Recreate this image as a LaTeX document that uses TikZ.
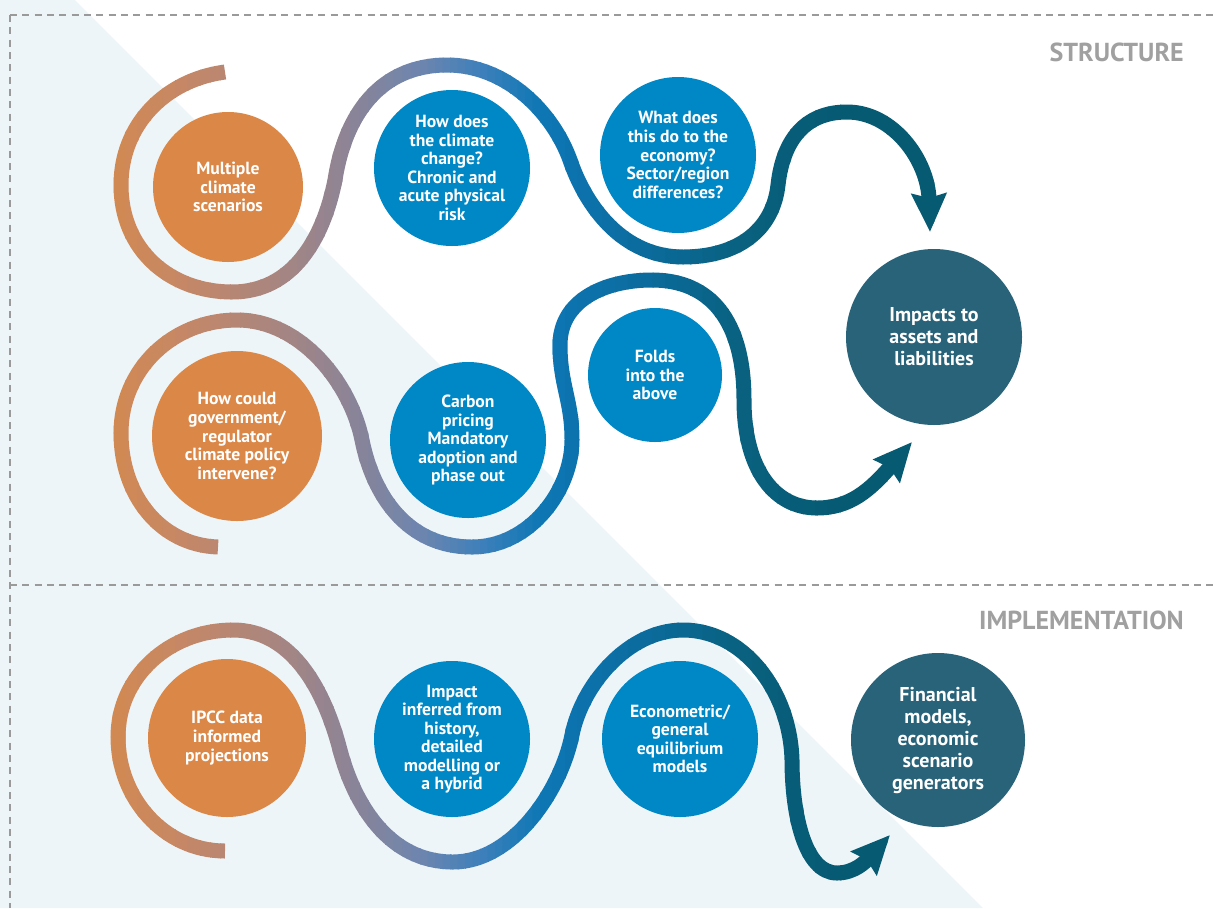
\documentclass[tikz,border=0pt]{standalone}
\usepackage{fontspec}
\setmainfont{PT Sans}
\usetikzlibrary{arrows.meta}
\definecolor{corange}{HTML}{DA8747}
\definecolor{cblue}{HTML}{0088C6}
\definecolor{cteal}{HTML}{28637A}
\definecolor{cbg}{HTML}{EEF5F8}
\definecolor{cgray}{HTML}{9A9A9A}
\definecolor{clabel}{HTML}{A0A0A0}
\definecolor{g0}{HTML}{D5894F}
\definecolor{g1}{HTML}{C1876A}
\definecolor{g2}{HTML}{A78581}
\definecolor{g3}{HTML}{8C8497}
\definecolor{g4}{HTML}{6E85AE}
\definecolor{g5}{HTML}{3F80BB}
\definecolor{g6}{HTML}{0E77B5}
\definecolor{g7}{HTML}{0B6C9E}
\definecolor{g8}{HTML}{096180}
\definecolor{g9}{HTML}{065A72}
\tikzset{
  bub/.style={circle, inner sep=0pt, align=center, text=white,
    font=\fontsize{13.2}{13.9}\selectfont\bfseries},
  orangeb/.style={bub, fill=corange},
  blueb/.style={bub, fill=cblue},
  tealb/.style={bub, fill=cteal, font=\fontsize{15}{16.5}\selectfont\bfseries},
  snk/.style={line width=11.25pt, -{Stealth[length=28.5pt,width=25.5pt,inset=3pt]}},
  dashline/.style={draw=cgray, line width=1.1pt, dash pattern=on 5.25pt off 4pt},
  sect/.style={anchor=east, inner sep=0pt, text=clabel, font=\fontsize{19.5}{19.5}\selectfont\bfseries}
}
\newcommand{\drawsnakes}[1]{%
  \draw[snk, draw=#1] (s1) .. controls (165,80) and (121,125) .. (121,185)
    .. controls (121,250) and (170,292) .. (232,292)
    .. controls (292,292) and (323,240) .. (335,180)
    .. controls (345,115) and (380,65) .. (447,65)
    .. controls (507,65) and (553,113) .. (570,160)
    .. controls (586,207) and (623,257) .. (683,257)
    .. controls (738,257) and (773,230) .. (778,185)
    .. controls (783,140) and (805,112) .. (847,112)
    .. controls (893,112) and (928,160) .. (t1);
  \draw[snk, draw=#1] (s2) .. controls (160,545) and (121,495) .. (121,433)
    .. controls (121,370) and (172,320) .. (237,320)
    .. controls (302,320) and (351,385) .. (362,440)
    .. controls (373,495) and (407,547) .. (472,547)
    .. controls (530,547) and (572,490) .. (572,440)
    .. controls (572,400) and (560,385) .. (560,345)
    .. controls (560,300) and (605,280) .. (652,280)
    .. controls (710,280) and (744,320) .. (744,400)
    .. controls (744,470) and (775,508) .. (817,508)
    .. controls (850,508) and (870,490) .. (t2);
  \draw[snk, draw=#1] (s3) .. controls (164,851) and (118,798) .. (118,737)
    .. controls (118,676) and (170,630) .. (233,630)
    .. controls (293,630) and (325,692) .. (340,750)
    .. controls (354,803) and (388,862) .. (453,862)
    .. controls (513,862) and (561,790) .. (572,735)
    .. controls (582,685) and (628,630) .. (683,630)
    .. controls (743,630) and (790,690) .. (792,760)
    .. controls (792,815) and (805,873) .. (837,873)
    .. controls (855,873) and (866,861) .. (t3);
}
\begin{document}
\begin{tikzpicture}[x=0.75pt,y=-0.75pt]
\useasboundingbox (0,0) rectangle (1213,908);
\fill[white] (0,0) rectangle (1213,908);
\fill[cbg] (0,0) -- (75,0) -- (983,908) -- (0,908) -- cycle;
% dashed frame
\draw[dashline] (10,15) -- (1213,15);
\draw[dashline] (10,15) -- (10,908);
\draw[dashline] (10,585) -- (1213,585);
\node[sect] (lstruct) at (1184,52) {STRUCTURE};
\node[sect] (limpl) at (1184,620) {IMPLEMENTATION};
% snake coordinates
\coordinate (s1) at (225,72);
\coordinate (t1) at (930,232);
\coordinate (s2) at (218,547);
\coordinate (t2) at (912,442);
\coordinate (s3) at (225,851);
\coordinate (t3) at (890,835);
% gradient snakes via strips
\foreach \xa/\xb/\ca/\cb in {0/100/g0/g0, 100/200/g0/g1, 200/280/g1/g2, 280/350/g2/g3,
  350/420/g3/g4, 420/480/g4/g5, 480/540/g5/g6, 540/640/g6/g7, 640/740/g7/g8,
  740/840/g8/g9, 840/1213/g9/g9}{
  \foreach \i in {0,...,7}{
    \pgfmathsetmacro\xl{\xa+(\xb-\xa)*\i/8}
    \pgfmathsetmacro\xr{\xa+(\xb-\xa)*(\i+1)/8+1}
    \pgfmathtruncatemacro\pc{100-(\i+0.5)*100/8}
    \colorlet{stripc}{\ca!\pc!\cb}
    \begin{scope}
      \clip (\xl,0) rectangle (\xr,908);
      \drawsnakes{stripc}
    \end{scope}
  }
}
% circles
\node[orangeb, minimum size=112.5pt] (c1) at (228,187) {Multiple\\climate\\scenarios};
\node[blueb, minimum size=117pt] (c2) at (452,168) {How does\\the climate\\change?\\Chronic and\\acute physical\\risk};
\node[blueb, minimum size=117pt] (c3) at (678,155) {What does\\this do to the\\economy?\\Sector/region\\differences?};
\node[tealb, minimum size=132pt] (c4) at (934,337) {Impacts to\\assets and\\liabilities};
\node[orangeb, minimum size=127.5pt] (c5) at (237,436) {How could\\government/\\regulator\\climate policy\\intervene?};
\node[blueb, minimum size=117pt] (c6) at (468,440) {Carbon\\pricing\\Mandatory\\adoption and\\phase out};
\node[blueb, minimum size=100.5pt] (c7) at (655,375) {Folds\\into the\\above};
\node[orangeb, minimum size=118.5pt] (c8) at (227,738) {IPCC data\\informed\\projections};
\node[blueb, minimum size=117pt] (c9) at (452,739) {Impact\\inferred from\\history,\\detailed\\modelling or\\a hybrid};
\node[blueb, minimum size=117pt] (c10) at (680,739) {Econometric/\\general\\equilibrium\\models};
\node[tealb, minimum size=130.5pt] (c11) at (938,740) {Financial\\models,\\economic\\scenario\\generators};
\end{tikzpicture}
\end{document}
